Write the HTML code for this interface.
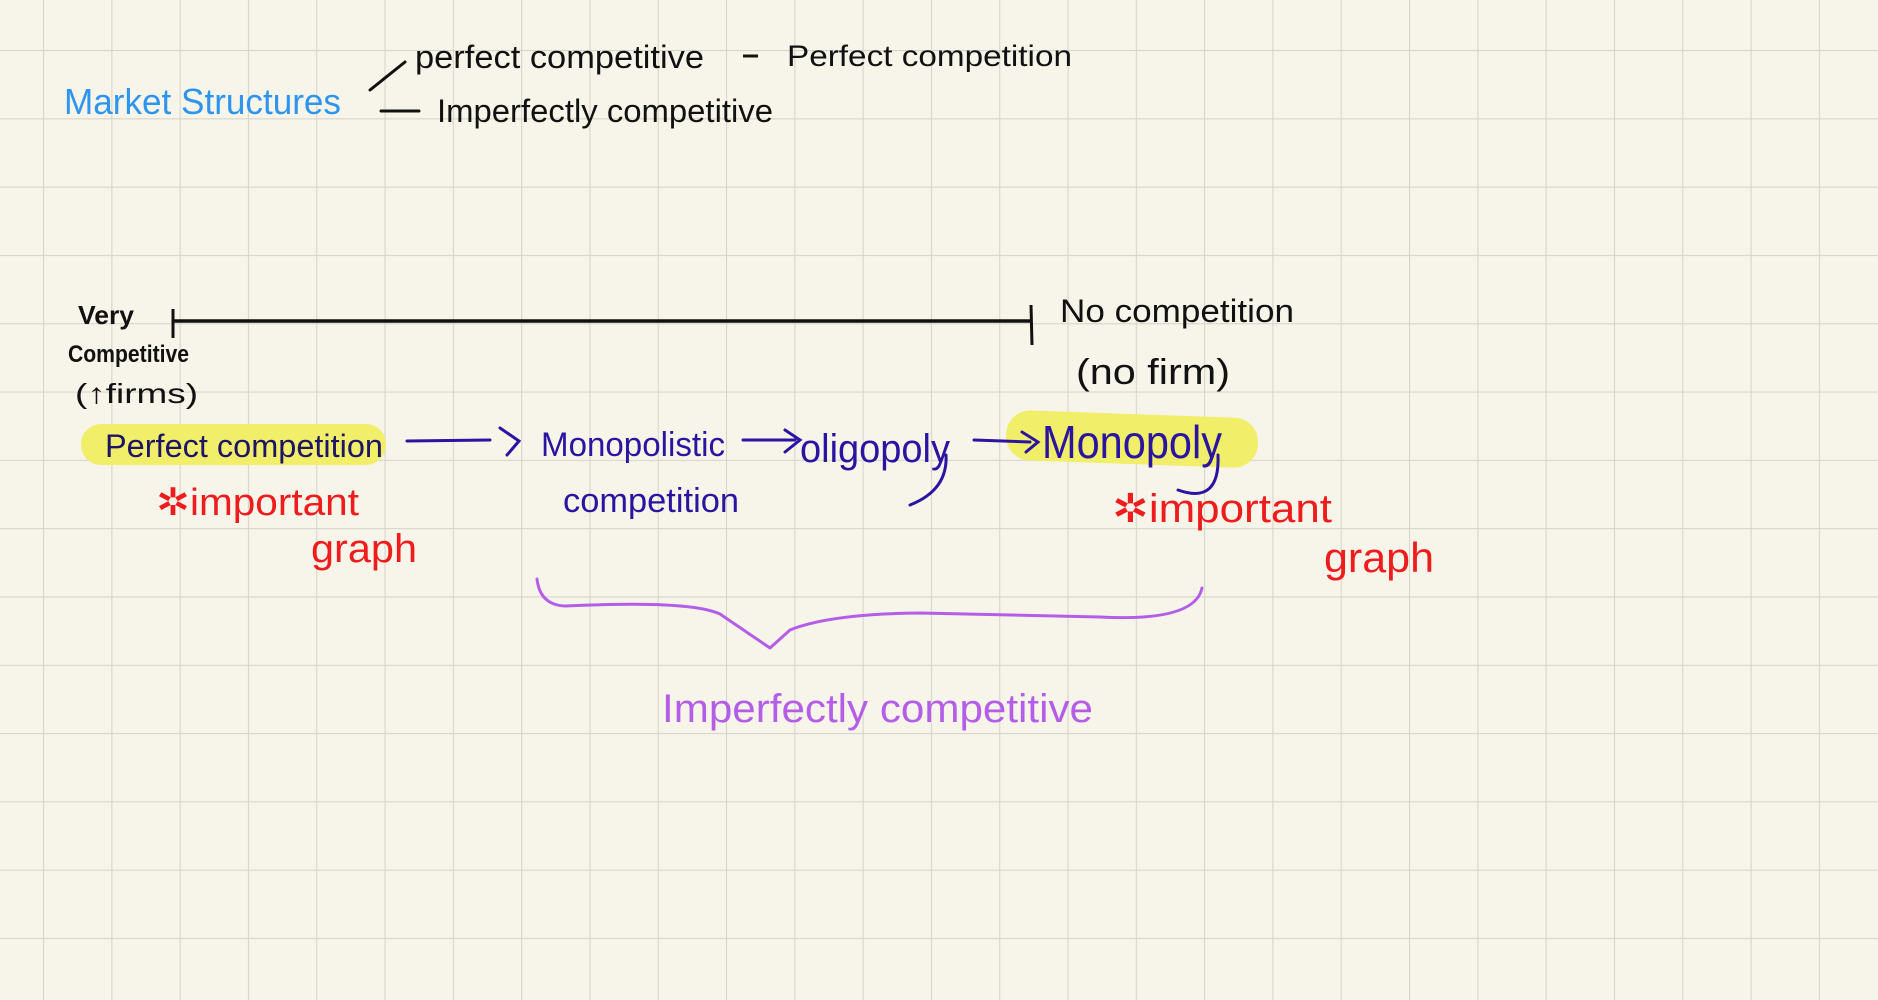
<!DOCTYPE html>
<html><head><meta charset="utf-8"><style>
html,body{margin:0;padding:0;background:#f7f5ea;}
svg{display:block;}
text{font-family:"Liberation Sans",sans-serif;}
</style></head><body>
<svg width="1878" height="1000" viewBox="0 0 1878 1000" xmlns="http://www.w3.org/2000/svg">
<defs>
<pattern id="g" x="43" y="50" width="68.3" height="68.3" patternUnits="userSpaceOnUse">
<path d="M0 0V68.3M0 0H68.3" stroke="#d8d5ca" stroke-width="2.2" fill="none"/>
</pattern>
</defs>
<rect width="1878" height="1000" fill="#f7f5ea"/>
<rect width="1878" height="1000" fill="url(#g)"/>

<text x="64" y="114" font-size="36" fill="#2e95ee" textLength="277" lengthAdjust="spacingAndGlyphs">Market Structures</text>
<path d="M370 90 L405 62" stroke="#111" stroke-width="3" fill="none" stroke-linecap="round"/>
<path d="M381 111 L419 111" stroke="#111" stroke-width="3" fill="none" stroke-linecap="round"/>
<text x="415" y="68" font-size="32" fill="#111" textLength="289" lengthAdjust="spacingAndGlyphs">perfect competitive</text>
<path d="M743 56 L758 56" stroke="#111" stroke-width="3"/>
<text x="787" y="66" font-size="30" fill="#111" textLength="285" lengthAdjust="spacingAndGlyphs">Perfect competition</text>
<text x="437" y="122" font-size="32" fill="#111" textLength="336" lengthAdjust="spacingAndGlyphs">Imperfectly competitive</text>

<path d="M174 321 L1030 321" stroke="#111" stroke-width="3.5"/>
<path d="M173 309 L173 338" stroke="#111" stroke-width="3"/>
<path d="M1031 305 L1032 345" stroke="#111" stroke-width="3"/>
<text x="78" y="324" font-size="26" font-weight="bold" fill="#111" textLength="56" lengthAdjust="spacingAndGlyphs">Very</text>
<text x="68" y="362" font-size="24" font-weight="bold" fill="#111" textLength="121" lengthAdjust="spacingAndGlyphs">Competitive</text>
<text x="75" y="403" font-size="28" fill="#111" textLength="123" lengthAdjust="spacingAndGlyphs">(↑firms)</text>
<text x="1060" y="322" font-size="32" fill="#111" textLength="234" lengthAdjust="spacingAndGlyphs">No competition</text>
<text x="1076" y="384" font-size="36" fill="#111" textLength="154" lengthAdjust="spacingAndGlyphs">(no firm)</text>

<rect x="81" y="424" width="305" height="41" rx="20" fill="#f1ee6a"/>
<rect x="1006" y="414" width="252" height="50" rx="24" fill="#f1ee6a" transform="rotate(2 1130 440)"/>
<text x="105" y="457" font-size="32" fill="#1e1466" textLength="278" lengthAdjust="spacingAndGlyphs">Perfect competition</text>
<path d="M407 441 L490 440 M500 428 L519 441 L507 455" stroke="#2a14a0" stroke-width="3" fill="none" stroke-linecap="round"/>
<text x="541" y="456" font-size="34" fill="#2a14a0" textLength="184" lengthAdjust="spacingAndGlyphs">Monopolistic</text>
<text x="563" y="512" font-size="34" fill="#2a14a0" textLength="176" lengthAdjust="spacingAndGlyphs">competition</text>
<path d="M743 440 L795 440 M785 430 L800 440 L785 452" stroke="#2a14a0" stroke-width="3" fill="none" stroke-linecap="round"/>
<text x="800" y="462" font-size="40" fill="#2a14a0" textLength="150" lengthAdjust="spacingAndGlyphs">oligopoly</text>
<path d="M946 455 Q948 490 910 505" stroke="#2a14a0" stroke-width="3" fill="none" stroke-linecap="round"/>
<path d="M974 440 L1030 442 M1022 432 L1038 442 L1026 452" stroke="#2a14a0" stroke-width="3" fill="none" stroke-linecap="round"/>
<text x="1042" y="458" font-size="46" fill="#2a14a0" textLength="180" lengthAdjust="spacingAndGlyphs">Monopoly</text>
<path d="M1218 455 Q1220 505 1178 490" stroke="#2a14a0" stroke-width="3" fill="none" stroke-linecap="round"/>

<text x="156" y="515" font-size="38" fill="#ee1c1c" textLength="203" lengthAdjust="spacingAndGlyphs">✲important</text>
<text x="311" y="562" font-size="40" fill="#ee1c1c" textLength="106" lengthAdjust="spacingAndGlyphs">graph</text>
<text x="1112" y="522" font-size="40" fill="#ee1c1c" textLength="220" lengthAdjust="spacingAndGlyphs">✲important</text>
<text x="1324" y="572" font-size="42" fill="#ee1c1c" textLength="110" lengthAdjust="spacingAndGlyphs">graph</text>

<path d="M537 579 Q540 605 565 606 Q690 600 720 614 L770 648 L790 630 Q830 614 920 613 L1100 617 Q1195 622 1202 588" stroke="#b45ee8" stroke-width="3" fill="none" stroke-linecap="round" stroke-linejoin="round"/>
<text x="662" y="722" font-size="40" fill="#b45ee8" textLength="431" lengthAdjust="spacingAndGlyphs">Imperfectly competitive</text>
</svg>
</body></html>
